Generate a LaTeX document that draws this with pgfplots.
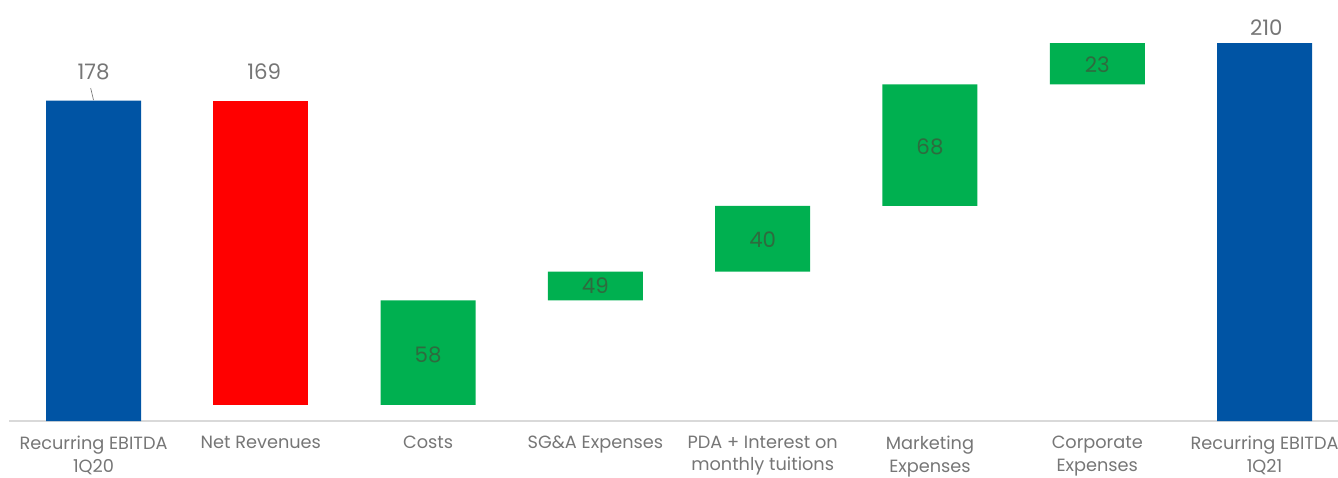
\documentclass[border=0pt]{standalone}
\usepackage{pgfplots}
\usepackage{pgfplotstable}
\pgfplotsset{compat=1.18}
\usepackage{fontspec}
\setmainfont{Poppins}
\definecolor{cblue}{HTML}{0054A4}
\definecolor{cred}{HTML}{FF0000}
\definecolor{cgreen}{HTML}{00B050}
\definecolor{ctext}{HTML}{767676}
\definecolor{cgtext}{HTML}{2E6B3E}
\definecolor{caxis}{HTML}{D9D9D9}
\tikzset{vlab/.style={font=\fontsize{16}{19}\selectfont, inner sep=0pt, anchor=center}}

\pgfplotstableread{
x base blue red green
0 0 178 0 0
1 9 0 169 0
2 9 0 0 58
3 67 0 0 16
4 83 0 0 36.5
5 119.5 0 0 67.5
6 187 0 0 23
7 0 210 0 0
}\wfdata

\begin{document}
\begin{tikzpicture}
\begin{axis}[
  x=125.47pt, y=1.35pt,
  xmin=-0.505, xmax=7.44, ymin=0, ymax=234,
  axis x line*=bottom, axis y line=none,
  x axis line style={draw=caxis, line width=1.1pt, -},
  ytick=\empty,
  xtick={0,...,7},
  major tick length=0pt,
  xticklabels={{Recurring EBITDA\\1Q20},{Net Revenues},{Costs},{SG\&A Expenses},{PDA + Interest on\\monthly tuitions},{Marketing\\Expenses},{Corporate\\Expenses},{Recurring EBITDA\\1Q21}},
  xticklabel style={align=center, font=\fontsize{13.3}{16.8}\selectfont, text=ctext, anchor=north, yshift=-7.8pt},
  ybar stacked, bar width=71.25pt,
  clip=false,
]
\addplot[draw=none, fill=none] table[x=x, y=base] {\wfdata};
\addplot[draw=none, fill=cblue] table[x=x, y=blue] {\wfdata};
\addplot[draw=none, fill=cred] table[x=x, y=red] {\wfdata};
\addplot[draw=none, fill=cgreen] table[x=x, y=green] {\wfdata};

\coordinate (La) at (axis cs:0,193.9);
\coordinate (Lb) at (axis cs:1.02,193.9);
\coordinate (Lh) at (axis cs:7.01,218.3);
\coordinate (Lc) at (axis cs:2,36.7);
\coordinate (Ld) at (axis cs:3,75);
\coordinate (Le) at (axis cs:4,100.6);
\coordinate (Lf) at (axis cs:5,152.2);
\coordinate (Lg) at (axis cs:6,197.8);
\coordinate (T1) at (axis cs:-0.017,185);
\coordinate (T2) at (axis cs:0,178.3);

\coordinate (BL) at (axis cs:-0.559,-31.1);
\coordinate (TR) at (axis cs:7.439,233.9);
\end{axis}
\node[vlab, text=ctext] at (La) {178};
\node[vlab, text=ctext] at (Lb) {169};
\node[vlab, text=ctext] at (Lh) {210};
\node[vlab, text=cgtext] at (Lc) {58};
\node[vlab, text=cgtext] at (Ld) {49};
\node[vlab, text=cgtext] at (Le) {40};
\node[vlab, text=cgtext] at (Lf) {68};
\node[vlab, text=cgtext] at (Lg) {23};
\draw[ctext, line width=0.5pt] (T1) -- (T2);
\pgfresetboundingbox
\path[use as bounding box] (BL) rectangle (TR);
\end{tikzpicture}
\end{document}
